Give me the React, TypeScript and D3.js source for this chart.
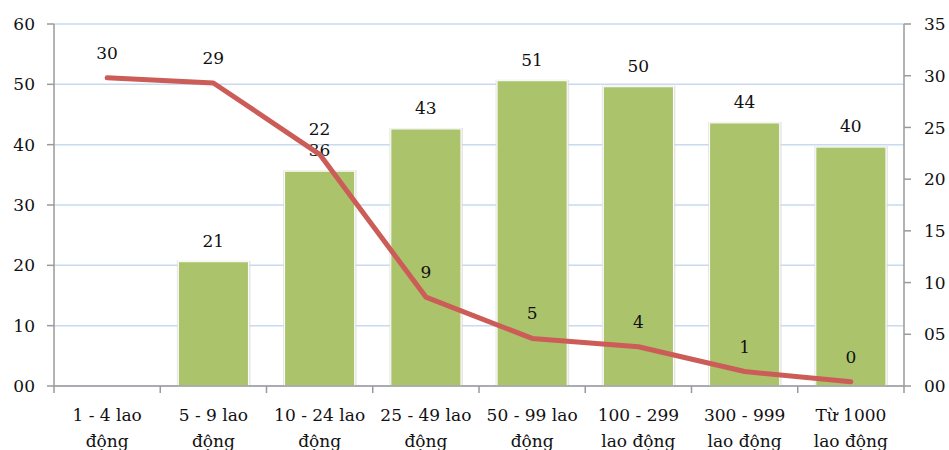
import React from "react";
import * as d3 from "d3";

const categories: string[][] = [
  ["1 - 4 lao", "động"],
  ["5 - 9 lao", "động"],
  ["10 - 24 lao", "động"],
  ["25 - 49 lao", "động"],
  ["50 - 99 lao", "động"],
  ["100 - 299", "lao động"],
  ["300 - 999", "lao động"],
  ["Từ 1000", "lao động"],
];
// bar series (left axis); first group has no bar
const barValues: (number | null)[] = [null, 20.6, 35.6, 42.6, 50.6, 49.6, 43.6, 39.6];
// line series (right axis)
const lineValues: number[] = [29.8, 29.3, 22.4, 8.6, 4.6, 3.8, 1.4, 0.4];
const leftTicks: number[] = [0, 10, 20, 30, 40, 50, 60];
const rightTicks: number[] = [0, 5, 10, 15, 20, 25, 30, 35];

const W = 949;
const H = 450;
const left = 54;
const right = 904;
const top = 24;
const bottom = 386;

const FONT = "DejaVu Serif";
const FS = 17;
const pad2 = (v: number) => (v < 10 ? "0" + v : String(v));
const fmt = d3.format(".0f");

export default function App() {
  const keys = categories.map((_, i) => String(i));
  const x = d3.scaleBand<string>().domain(keys).range([left, right]).paddingInner(0.34).paddingOuter(0.17);
  const step = (right - left) / categories.length;
  const yL = d3.scaleLinear().domain([0, 60]).range([bottom, top]);
  const yR = d3.scaleLinear().domain([0, 35]).range([bottom, top]);
  const cx = (i: number) => (x(String(i)) as number) + x.bandwidth() / 2;

  const line = d3
    .line<number>()
    .x((_, i) => cx(i))
    .y((d) => yR(d))
    .curve(d3.curveLinear);

  const axisColor = "#9a9a9a";

  return (
    <svg width={W} height={H} style={{ position: "absolute", left: 0, top: 0, background: "#fff" }} fontFamily={FONT}>
      {/* gridlines */}
      {leftTicks.map((t) => (
        <line key={"g" + t} x1={left} x2={right} y1={yL(t)} y2={yL(t)} stroke="#c9daf0" strokeWidth={1.5} />
      ))}

      {/* bars */}
      {barValues.map((v, i) =>
        v == null ? null : (
          <g key={"b" + i}>
            <rect
              x={(x(String(i)) as number) - 1.5}
              y={yL(v) - 1}
              width={x.bandwidth() + 3.5}
              height={bottom - yL(v) + 1}
              fill="#dcdcdc"
              opacity={0.7}
            />
            <rect
              x={x(String(i)) as number}
              y={yL(v)}
              width={x.bandwidth()}
              height={bottom - yL(v)}
              fill="#abc46c"
              stroke="#ffffff"
              strokeWidth={1}
            />
          </g>
        )
      )}

      {/* axes */}
      <line x1={left} x2={left} y1={top} y2={bottom} stroke={axisColor} strokeWidth={1.5} />
      <line x1={right} x2={right} y1={top} y2={bottom} stroke={axisColor} strokeWidth={1.5} />
      <line x1={left} x2={right} y1={bottom} y2={bottom} stroke={axisColor} strokeWidth={1.5} />
      {leftTicks.map((t) => (
        <g key={"l" + t}>
          <line x1={left - 7} x2={left} y1={yL(t)} y2={yL(t)} stroke={axisColor} strokeWidth={1.5} />
          <text x={35} y={yL(t)} dy="0.36em" textAnchor="end" fontSize={FS} fill="#111">
            {pad2(t)}
          </text>
        </g>
      ))}
      {rightTicks.map((t) => (
        <g key={"r" + t}>
          <line x1={right} x2={right + 7} y1={yR(t)} y2={yR(t)} stroke={axisColor} strokeWidth={1.5} />
          <text x={924} y={yR(t)} dy="0.36em" textAnchor="start" fontSize={FS} fill="#111">
            {pad2(t)}
          </text>
        </g>
      ))}
      {d3.range(categories.length + 1).map((i) => (
        <line
          key={"t" + i}
          x1={left + i * step}
          x2={left + i * step}
          y1={bottom}
          y2={bottom + 7}
          stroke={axisColor}
          strokeWidth={1.5}
        />
      ))}
      {categories.map((c, i) => (
        <text key={"c" + i} x={cx(i)} y={421} textAnchor="middle" fontSize={FS} fill="#111">
          <tspan x={cx(i)}>{c[0]}</tspan>
          <tspan x={cx(i)} dy={25.5}>
            {c[1]}
          </tspan>
        </text>
      ))}

      {/* bar value labels */}
      {barValues.map((v, i) =>
        v == null ? null : (
          <text key={"bl" + i} x={cx(i)} y={yL(v) - 15} textAnchor="middle" fontSize={FS} fill="#111">
            {fmt(v)}
          </text>
        )
      )}

      {/* line series */}
      <path
        d={line(lineValues) || ""}
        fill="none"
        stroke="#cc5c57"
        strokeWidth={5}
        strokeLinejoin="round"
        strokeLinecap="round"
      />
      {lineValues.map((v, i) => (
        <text key={"ll" + i} x={cx(i)} y={yR(v) - 19} textAnchor="middle" fontSize={FS} fill="#111">
          {fmt(v)}
        </text>
      ))}
    </svg>
  );
}
